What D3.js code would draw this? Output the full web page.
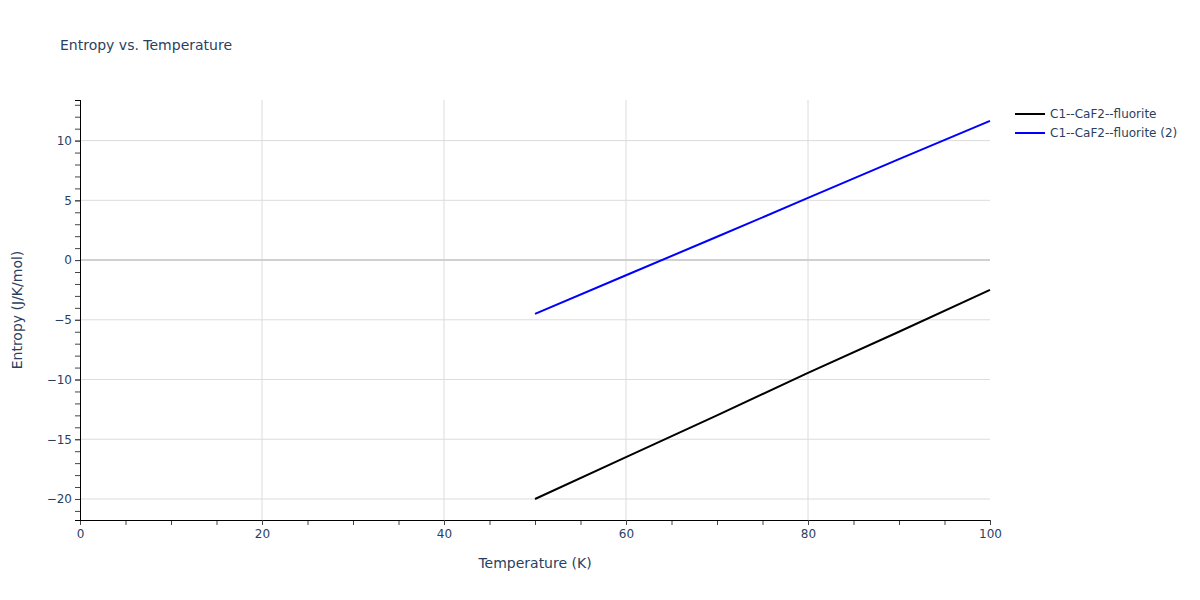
<!DOCTYPE html>
<html>
<head>
<meta charset="utf-8">
<script src="https://cdn.jsdelivr.net/npm/d3@7"></script>
<style>
  body { margin: 0; background: #fff; }
  text { font-family: "DejaVu Sans", Verdana, sans-serif; }
</style>
</head>
<body>
<svg id="chart" width="1200" height="600"></svg>
<script>
// ---- data ----
const temperature = [50, 60, 70, 80, 90, 100];
const entropyFluorite = [-20.0, -16.5, -13.0, -9.45, -6.0, -2.5];
const entropyFluorite2 = [-4.5, -1.27, 1.95, 5.2, 8.45, 11.65];
const seriesNames = ["C1--CaF2--fluorite", "C1--CaF2--fluorite (2)"];
const seriesColors = ["#000000", "#0000ff"];
const xTicks = [0, 20, 40, 60, 80, 100];
const yTicks = [-20, -15, -10, -5, 0, 5, 10];

const FONT = '"DejaVu Sans", Verdana, sans-serif';
const svg = d3.select("#chart");
const margin = {left: 80, right: 990, top: 100, bottom: 520};
const x = d3.scaleLinear().domain([0, 100]).range([margin.left, margin.right]);
const y = d3.scaleLinear().domain([-21.76, 13.4]).range([margin.bottom, margin.top]);
const textColor = "#2a3f5f";

// grid
svg.append("g").selectAll("line").data(xTicks.filter(d => d > 0 && d < 100)).join("line")
  .attr("x1", d => x(d)).attr("x2", d => x(d)).attr("y1", margin.top).attr("y2", margin.bottom)
  .attr("stroke", "#dcdcdc").attr("stroke-width", 1);
svg.append("g").selectAll("line").data(yTicks.filter(d => d !== 0)).join("line")
  .attr("x1", margin.left).attr("x2", margin.right).attr("y1", d => y(d)).attr("y2", d => y(d))
  .attr("stroke", "#dcdcdc").attr("stroke-width", 1);
// zero line
svg.append("line").attr("x1", margin.left).attr("x2", margin.right)
  .attr("y1", y(0)).attr("y2", y(0)).attr("stroke", "#d0d0d0").attr("stroke-width", 2);

// axes
const xAxis = d3.axisBottom(x).tickValues(xTicks).tickSize(5).tickPadding(4).tickFormat(d3.format("d"));
const xMinor = d3.axisBottom(x).tickValues(d3.range(0, 101, 5)).tickSize(5).tickFormat("");
const yAxis = d3.axisLeft(y).tickValues(yTicks).tickSize(5).tickPadding(3);
const yMinor = d3.axisLeft(y).tickValues(d3.range(-21, 14, 1)).tickSize(5).tickFormat("");

function style(g) {
  g.select(".domain").attr("stroke", "#000").attr("stroke-width", 1);
  g.selectAll(".tick line").attr("stroke", "#444");
  g.selectAll(".tick text").attr("fill", textColor).attr("font-size", 12)
    .attr("font-family", FONT);
}
svg.append("g").attr("transform", `translate(0,${margin.bottom})`).call(xMinor).call(style);
svg.append("g").attr("transform", `translate(0,${margin.bottom})`).call(xAxis).call(style);
svg.append("g").attr("transform", `translate(${margin.left},0)`).call(yMinor).call(style);
svg.append("g").attr("transform", `translate(${margin.left},0)`).call(yAxis).call(style);

// lines
const series = [entropyFluorite, entropyFluorite2];
const line = d3.line().x((d, i) => x(temperature[i])).y(d => y(d));
series.forEach((s, k) => {
  svg.append("path").datum(s).attr("d", line).attr("fill", "none")
    .attr("stroke", seriesColors[k]).attr("stroke-width", 2);
});

// title
svg.append("text").attr("x", 60).attr("y", 50).attr("font-size", 14).attr("fill", textColor)
  .text("Entropy vs. Temperature");
// axis titles
svg.append("text").attr("x", (margin.left + margin.right) / 2).attr("y", 568)
  .attr("text-anchor", "middle").attr("font-size", 14).attr("fill", textColor).text("Temperature (K)");
svg.append("text").attr("transform", `translate(22,${(margin.top + margin.bottom) / 2}) rotate(-90)`)
  .attr("text-anchor", "middle").attr("font-size", 14).attr("fill", textColor).text("Entropy (J/K/mol)");

// legend
seriesNames.forEach((n, k) => {
  const ly = 114 + k * 19;
  svg.append("line").attr("x1", 1015).attr("x2", 1045).attr("y1", ly).attr("y2", ly)
    .attr("stroke", seriesColors[k]).attr("stroke-width", 2);
  svg.append("text").attr("x", 1050).attr("y", ly + 4).attr("font-size", 12).attr("fill", textColor).text(n);
});
</script>
</body>
</html>
